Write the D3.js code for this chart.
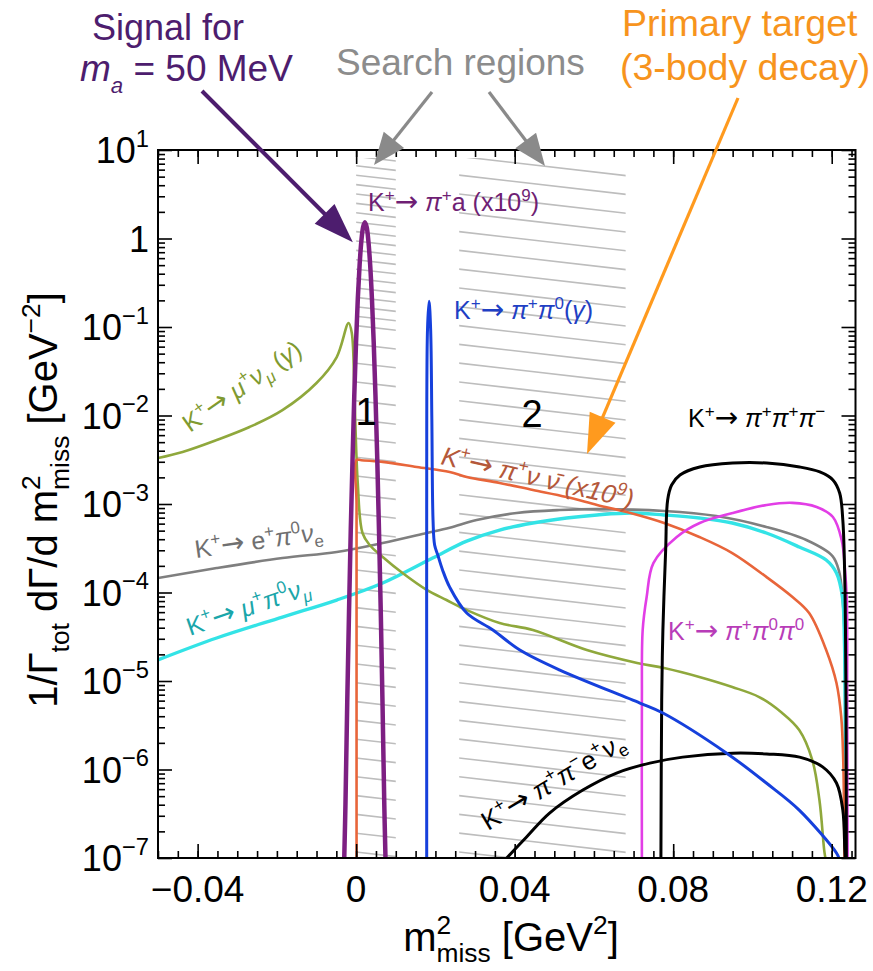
<!DOCTYPE html>
<html><head><meta charset="utf-8">
<script src="https://cdn.jsdelivr.net/npm/d3@7"></script>
<style>
body{margin:0;background:#fff;}
svg{display:block;font-family:"Liberation Sans",Arial,Helvetica,sans-serif;}
</style></head><body>
<svg id="chart" width="873" height="971"></svg>
<script>
// ---- data: missing-mass-squared spectra (x in GeV^2, y in 1/Gamma dGamma/dm^2) ----
const signalX = [-0.0030,-0.0027,-0.00225,-0.0018,-0.00136,-0.0009,-0.00047,-0.00003,0.00042,0.00087,0.00131,0.00176,0.0022,0.00265,0.00309,0.00354,0.00398,0.00443,0.00487,0.00532,0.00576,0.00621,0.00665,0.0071,0.0074];
const signalY = [1e-7,4e-7,5.7e-6,6.1e-5,5.1e-4,3.3e-3,0.017,0.067,0.21,0.50,0.93,1.35,1.53,1.35,0.93,0.50,0.21,0.067,0.017,3.3e-3,5.1e-4,6.1e-5,5.7e-6,4e-7,1e-7];

const muNuX = [-0.0500,-0.0438,-0.0352,-0.0269,-0.0186,-0.0100,-0.0049,-0.0019,-0.0011,-0.0004,0.0004,0.0016,0.0034,0.0067,0.0117,0.0178,0.0228,0.0279,0.0362,0.0446,0.0582,0.0709,0.0777,0.0866,0.0949,0.1017,0.1075,0.1118,0.1151,0.1169,0.1181,0.1184];
const muNuY = [3.31e-3,3.87e-3,5.28e-3,7.41e-3,1.15e-2,2.33e-2,4.58e-2,0.111,0.0855,0.0150,1.73e-3,4.70e-4,3.44e-4,2.52e-4,1.66e-4,1.07e-4,8.22e-5,6.34e-5,4.52e-5,3.77e-5,2.24e-5,1.60e-5,1.40e-5,1.11e-5,8.55e-6,6.59e-6,4.35e-6,2.79e-6,1.28e-6,4.52e-7,1.23e-7,1e-7];

const piNuNuX = [0.0001,0.0001,0.0001,0.0001,0.0013,0.0067,0.0153,0.0236,0.0279,0.0362,0.0446,0.0531,0.0608,0.0692,0.0777,0.0866,0.0949,0.1035,0.1101,0.1143,0.1186,0.1212,0.1224,0.1229,0.1232];
const piNuNuY = [1e-7,1e-5,1e-3,3.14e-3,3.12e-3,2.99e-3,2.62e-3,2.30e-3,2.02e-3,1.73e-3,1.44e-3,1.20e-3,9.75e-4,7.91e-4,6.10e-4,4.24e-4,2.79e-4,1.50e-4,8.89e-5,5.86e-5,2.24e-5,9.48e-6,3.92e-6,1.28e-6,1e-7];

const ePi0NuX = [-0.0500,-0.0352,-0.0186,-0.0049,0.0067,0.0178,0.0236,0.0304,0.0405,0.0513,0.0608,0.0777,0.0909,0.1035,0.1136,0.1202,0.1219,0.1227,0.1232,0.1234,0.1237];
const ePi0NuY = [1.46e-4,1.89e-4,2.45e-4,2.87e-4,3.62e-4,4.70e-4,5.40e-4,6.59e-4,7.91e-4,8.55e-4,8.75e-4,8.34e-4,7.31e-4,5.50e-4,3.92e-4,2.58e-4,1.70e-4,8.89e-5,3.77e-5,6.1e-6,1e-7];

const muPi0NuX = [-0.0500,-0.0352,-0.0186,-0.0049,0.0067,0.0193,0.0279,0.0362,0.0446,0.0531,0.0608,0.0692,0.0777,0.0866,0.0949,0.1035,0.1118,0.1186,0.1212,0.1227,0.1232,0.1234,0.1235];
const muPi0NuY = [1.73e-5,3.06e-5,5.28e-5,8.22e-5,1.28e-4,2.45e-4,3.80e-4,5.08e-4,6.10e-4,6.95e-4,7.52e-4,7.91e-4,7.52e-4,6.95e-4,6.10e-4,4.70e-4,3.27e-4,2.33e-4,1.66e-4,8.89e-5,2.9e-5,3.6e-6,1e-7];

const piPi0X = [0.0178,0.0178,0.0178,0.0180,0.0184,0.0188,0.0191,0.0194,0.0198,0.0206,0.0218,0.0236,0.0279,0.0345,0.0413,0.0514,0.0716,0.0774,0.0935,0.1035,0.1118,0.1212,0.1218];
const piPi0Y = [1e-7,1e-5,1.11e-3,0.0925,0.195,0.0925,8.9e-3,6.59e-4,3.44e-4,2.65e-4,1.80e-4,1.15e-4,5.86e-5,3.77e-5,2.24e-5,1.33e-5,5.64e-6,4.35e-6,1.53e-6,7.03e-7,3.48e-7,1.14e-7,1e-7];

const piPiPiX = [0.0769,0.0771,0.0774,0.0781,0.0786,0.0796,0.0817,0.0867,0.0950,0.1036,0.1119,0.1170,0.1203,0.1220,0.1228,0.1233,0.1236,0.1237];
const piPiPiY = [1e-7,6.1e-6,3.77e-5,3.02e-4,1.11e-3,1.64e-3,2.13e-3,2.62e-3,2.90e-3,2.90e-3,2.62e-3,2.30e-3,1.87e-3,1.33e-3,6.59e-4,1.38e-4,6.1e-6,1e-7];

const piPi0Pi0X = [0.0721,0.0721,0.0723,0.0733,0.0750,0.0809,0.0867,0.0950,0.1036,0.1101,0.1162,0.1203,0.1225,0.1233,0.1238,0.1239,0.1240];
const piPi0Pi0Y = [1e-7,6.1e-6,3.77e-5,8.89e-5,2.15e-4,4.24e-4,6.10e-4,7.91e-4,9.75e-4,1.03e-3,9.25e-4,7.13e-4,3.92e-4,1.94e-4,8.22e-5,6.1e-6,1e-7];

const ke4X = [0.0380,0.0430,0.0488,0.0572,0.0657,0.0741,0.0824,0.0950,0.1036,0.1119,0.1177,0.1212,0.1228,0.1233,0.1234];
const ke4Y = [1e-7,1.73e-7,3.22e-7,5.86e-7,9.12e-7,1.18e-6,1.38e-6,1.53e-6,1.50e-6,1.38e-6,1.07e-6,7.03e-7,3.48e-7,1.23e-7,1e-7];

// search regions in m^2_miss [GeV^2]
const regionBounds = [[0.0, 0.01], [0.026, 0.068]];
const regionNames = ["1", "2"];

// axis ticks
const xTickValues = [-0.04, 0, 0.04, 0.08, 0.12];
const xTickLabels = ["\u22120.04", "0", "0.04", "0.08", "0.12"];
const yTickExponents = [-7, -6, -5, -4, -3, -2, -1, 0, 1];

// ---- layout ----
const svg = d3.select("#chart");
const plot = {left: 158, right: 855.5, top: 150, bottom: 858};
const x = d3.scaleLinear().domain([-0.05, 0.126]).range([plot.left, plot.right]);
const y = d3.scaleLog().domain([1e-7, 10]).range([plot.bottom, plot.top]);

const defs = svg.append("defs");
defs.append("clipPath").attr("id", "plotClip")
  .append("rect").attr("x", plot.left).attr("y", plot.top)
  .attr("width", plot.right - plot.left).attr("height", plot.bottom - plot.top);

// hatched search regions (region 1 carries a doubled hatch in its upper part)
const hatchSpacing = 18.8;
const hatchSlope = 0.115;
function hatch(id, x0, x1, yTop, yBot, phase) {
  defs.append("clipPath").attr("id", id)
    .append("rect").attr("x", x0).attr("y", yTop).attr("width", x1 - x0).attr("height", yBot - yTop);
  const g = svg.append("g").attr("clip-path", `url(#${id})`);
  g.selectAll("line").data(d3.range(100 + phase, 900, hatchSpacing)).join("line")
    .attr("x1", x0 - 5).attr("y1", d => d - 5 * hatchSlope)
    .attr("x2", x1 + 5).attr("y2", d => d + (x1 - x0 + 5) * hatchSlope)
    .attr("stroke", "#bdbdbd").attr("stroke-width", 1.6);
}
regionBounds.forEach((b, i) => hatch("regionClip" + i, x(b[0]), x(b[1]), 158, plot.bottom, 0));
hatch("regionClip0b", x(regionBounds[0][0]), x(regionBounds[0][1]), 158, 322, hatchSpacing / 2);

// spectra
const line = d3.line().x(d => x(d[0])).y(d => y(d[1])).curve(d3.curveCatmullRom.alpha(0.5));
const zip = (a, b) => a.map((v, i) => [v, b[i]]);
const series = [
  {xs: ePi0NuX, ys: ePi0NuY, color: "#7f7f7f", w: 2.6},
  {xs: muPi0NuX, ys: muPi0NuY, color: "#33e3e6", w: 3.4},
  {xs: muNuX, ys: muNuY, color: "#8fa83c", w: 2.6},
  {xs: piNuNuX, ys: piNuNuY, color: "#e8653a", w: 2.6},
  {xs: piPi0Pi0X, ys: piPi0Pi0Y, color: "#e23ee6", w: 2.6},
  {xs: piPiPiX, ys: piPiPiY, color: "#000000", w: 3},
  {xs: ke4X, ys: ke4Y, color: "#000000", w: 3},
  {xs: piPi0X, ys: piPi0Y, color: "#1640dc", w: 3},
  {xs: signalX, ys: signalY, color: "#7d1f82", w: 4.5}
];
const curves = svg.append("g").attr("clip-path", "url(#plotClip)");
series.forEach(s => {
  curves.append("path").attr("d", line(zip(s.xs, s.ys)))
    .attr("fill", "none").attr("stroke", s.color).attr("stroke-width", s.w)
    .attr("stroke-linejoin", "round");
});

// frame and ticks
const axisG = svg.append("g");
const xMinor = d3.range(-0.05, 0.1261, 0.005).map(v => +v.toFixed(3));
const yMinor = [];
for (let e = -7; e < 1; e++) for (let m = 2; m <= 9; m++) yMinor.push(m * Math.pow(10, e));
const yMajor = yTickExponents.map(e => Math.pow(10, e));

function ticks(g, axis) { g.call(axis); g.select(".domain").remove(); g.selectAll("line").attr("stroke", "#000").attr("stroke-width", 1.6); }
axisG.append("g").attr("transform", `translate(0,${plot.bottom})`).call(g => ticks(g, d3.axisBottom(x).tickValues(xMinor).tickSize(-7).tickFormat("")));
axisG.append("g").attr("transform", `translate(0,${plot.bottom})`).call(g => ticks(g, d3.axisBottom(x).tickValues(xTickValues).tickSize(-14).tickFormat("")));
axisG.append("g").attr("transform", `translate(0,${plot.top})`).call(g => ticks(g, d3.axisTop(x).tickValues(xMinor).tickSize(-7).tickFormat("")));
axisG.append("g").attr("transform", `translate(0,${plot.top})`).call(g => ticks(g, d3.axisTop(x).tickValues(xTickValues).tickSize(-14).tickFormat("")));
axisG.append("g").attr("transform", `translate(${plot.left},0)`).call(g => ticks(g, d3.axisLeft(y).tickValues(yMinor).tickSize(-7).tickFormat("")));
axisG.append("g").attr("transform", `translate(${plot.left},0)`).call(g => ticks(g, d3.axisLeft(y).tickValues(yMajor).tickSize(-14).tickFormat("")));
axisG.append("g").attr("transform", `translate(${plot.right},0)`).call(g => ticks(g, d3.axisRight(y).tickValues(yMinor).tickSize(-7).tickFormat("")));
axisG.append("g").attr("transform", `translate(${plot.right},0)`).call(g => ticks(g, d3.axisRight(y).tickValues(yMajor).tickSize(-14).tickFormat("")));
axisG.append("rect").attr("x", plot.left).attr("y", plot.top)
  .attr("width", plot.right - plot.left).attr("height", plot.bottom - plot.top)
  .attr("fill", "none").attr("stroke", "#000").attr("stroke-width", 2);

// rich text helper: segments with superscripts / subscripts
function richText(parent, segs, o) {
  const fs = o.size;
  const t = parent.append("text").attr("x", o.x).attr("y", o.y)
    .attr("fill", o.color || "#000").attr("font-size", fs)
    .attr("text-anchor", o.anchor || "start");
  if (o.rotate) t.attr("transform", `rotate(${o.rotate},${o.x},${o.y})`);
  if (o.italic) t.attr("font-style", "italic");
  let level = 0, prev = null;
  segs.forEach(s => {
    if (typeof s === "string") s = {t: s};
    const shift = s.sup ? -fs * (o.raise || 0.42) : s.sub ? fs * (o.drop || 0.25) : 0;
    const sp = t.append("tspan").text(s.t)
      .attr("font-size", (s.sup || s.sub) ? fs * (o.small || 0.68) : fs)
      .attr("dy", shift - level);
    if (s.it) sp.attr("font-style", "italic");
    if (s.arrow) sp.attr("font-family", "DejaVu Sans").attr("font-size", fs * 1.12).attr("font-style", "normal");
    if (s.under && prev) sp.attr("dx", -prev.node().getComputedTextLength());
    level = shift; prev = sp;
  });
  return t;
}
const sup = t => ({t, sup: true});
const sub = t => ({t, sub: true});
const gr = t => ({t, it: true});
const grSub = t => ({t, sub: true, it: true});

// tick labels
const labels = svg.append("g");
xTickValues.forEach((v, i) => {
  labels.append("text").attr("x", x(v)).attr("y", 902).attr("text-anchor", "middle")
    .attr("font-size", 37).text(xTickLabels[i]);
});
yTickExponents.forEach(e => {
  const segs = e === 0 ? ["1"] : ["10", sup(e < 0 ? "\u2212" + (-e) : String(e))];
  richText(labels, segs, {x: 149, y: y(Math.pow(10, e)) + 13, size: 36, anchor: "end", raise: 0.45, small: 0.66});
});

// axis titles
richText(svg, ["m", sup("2"), {t: "miss", sub: true, under: true}, " [GeV", sup("2"), "]"],
  {x: 511, y: 951, size: 40, anchor: "middle", raise: 0.42, drop: 0.28, small: 0.66});
richText(svg, ["1/\u0393", sub("tot"), "   d\u0393/d m", sup("2"), {t: "miss", sub: true, under: true}, " [GeV", sup("\u22122"), "]"],
  {x: 57, y: 500, size: 40, anchor: "middle", rotate: -90, raise: 0.42, drop: 0.3, small: 0.66});

// curve labels
const lab = svg.append("g");
const K = ["K", sup("+"), {t: "\u2192", arrow: true}, " "];
richText(lab, [...K, gr("\u03c0"), sup("+"), "a (x10", sup("9"), ")"], {x: 368, y: 211, size: 25, color: "#6f1f74"});
richText(lab, [...K, gr("\u03c0"), sup("+"), gr("\u03c0"), sup("0"), "(", gr("\u03b3"), ")"], {x: 454, y: 319, size: 25, color: "#1f3fc4"});
richText(lab, [...K, gr("\u03bc"), sup("+"), gr("\u03bd"), grSub("\u03bc"), " (", gr("\u03b3"), ")"], {x: 190, y: 433, size: 25, color: "#7f9a30", rotate: -35});
richText(lab, [...K, gr("\u03c0"), sup("+"), gr("\u03bd"), " ", gr("\u03bd\u0304"), " (x10", sup("9"), ")"], {x: 440, y: 464, size: 26, color: "#b4583a", rotate: 13, italic: true});
richText(lab, [...K, gr("\u03c0"), sup("+"), gr("\u03c0"), sup("+"), gr("\u03c0"), sup("\u2212")], {x: 688, y: 427, size: 25, color: "#000"});
richText(lab, [...K, "e", sup("+"), gr("\u03c0"), sup("0"), gr("\u03bd"), sub("e")], {x: 196, y: 558, size: 25, color: "#707070", rotate: -8});
richText(lab, [...K, gr("\u03bc"), sup("+"), gr("\u03c0"), sup("0"), gr("\u03bd"), grSub("\u03bc")], {x: 190, y: 636, size: 25, color: "#1aa6aa", rotate: -19});
richText(lab, [...K, gr("\u03c0"), sup("+"), gr("\u03c0"), sup("0"), gr("\u03c0"), sup("0")], {x: 668, y: 640, size: 25, color: "#b83cb8"});
richText(lab, [...K, gr("\u03c0"), sup("+"), gr("\u03c0"), sup("\u2212"), "e", sup("+"), gr("\u03bd"), sub("e")], {x: 488, y: 831, size: 26, color: "#000", rotate: -31});

// region numbers
lab.append("text").attr("x", 366).attr("y", 425)
  .attr("text-anchor", "middle").attr("font-size", 38).text(regionNames[0]);
lab.append("text").attr("x", 532).attr("y", 427)
  .attr("text-anchor", "middle").attr("font-size", 38).text(regionNames[1]);

// annotations
const ann = svg.append("g");
function arrow(x0, y0, x1, y1, color, w, headLen, headHalf) {
  const dx = x1 - x0, dy = y1 - y0, L = Math.hypot(dx, dy);
  const ux = dx / L, uy = dy / L;
  const bx = x1 - ux * headLen, by = y1 - uy * headLen;
  ann.append("line").attr("x1", x0).attr("y1", y0).attr("x2", bx + ux * 2).attr("y2", by + uy * 2)
    .attr("stroke", color).attr("stroke-width", w);
  ann.append("path").attr("d", `M${x1},${y1}L${bx - uy * headHalf},${by + ux * headHalf}L${bx + uy * headHalf},${by - ux * headHalf}Z`)
    .attr("fill", color);
}
arrow(202, 91, x(signalX[12]) - 12, y(signalY[12]) + 20, "#4d1d6e", 4, 40, 14);
arrow(432, 92, 374, 165, "#8a8a8a", 3.2, 32, 13);
arrow(489, 92, 545, 166, "#8a8a8a", 3.2, 32, 13);
arrow(738, 98, 587, 454, "#ff9a1e", 3.2, 40, 14);

richText(ann, ["Signal for"], {x: 92, y: 40, size: 36, color: "#4d1d6e"});
richText(ann, [gr("m"), grSub("a"), " = 50 MeV"], {x: 80, y: 81, size: 37, color: "#4d1d6e", drop: 0.32, small: 0.6});
richText(ann, ["Search regions"], {x: 336, y: 75, size: 37, color: "#8c8c8c"});
richText(ann, ["Primary target"], {x: 622, y: 36, size: 37.5, color: "#f7941d"});
richText(ann, ["(3-body decay)"], {x: 620, y: 80, size: 37.5, color: "#f7941d"});
</script>
</body></html>
